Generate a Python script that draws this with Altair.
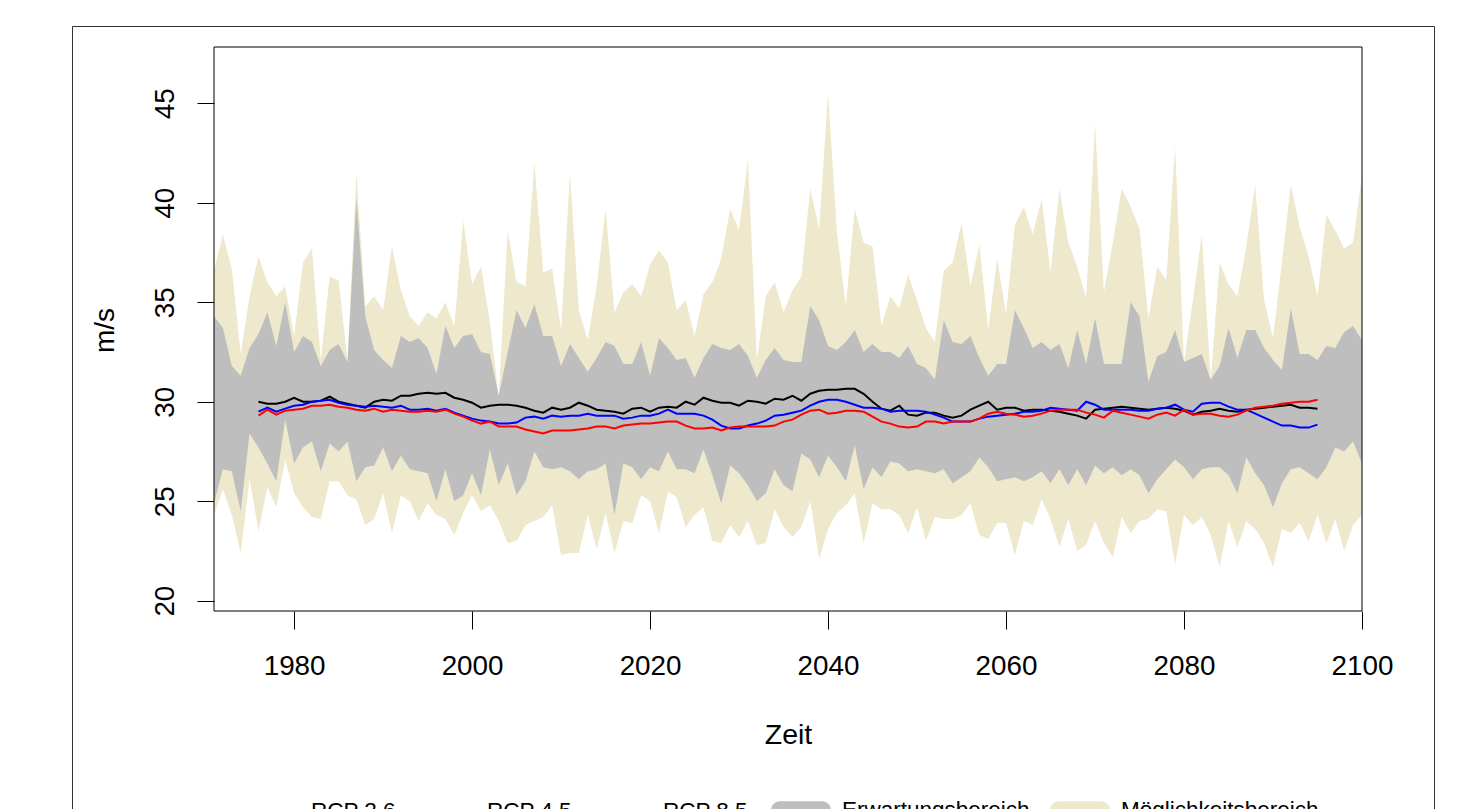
import altair as alt
import pandas as pd

band_years = list(range(1971, 2101))
line_years = list(range(1976, 2096))

moeglich_hi = [
    36.6, 38.4, 36.7, 32.4, 35.3, 37.3, 36.0, 35.3, 35.8, 33.3,
    37.0, 37.7, 32.1, 36.3, 36.1, 32.1, 41.5, 34.8, 35.3, 34.6,
    37.8, 35.6, 34.3, 33.8, 34.5, 34.2, 35.0, 33.8, 39.1, 35.9,
    36.8, 34.0, 30.3, 38.6, 36.0, 35.8, 42.0, 36.5, 36.7, 33.6,
    41.5, 34.6, 33.1, 35.8, 39.7, 34.5, 35.5, 35.9, 35.3, 36.9,
    37.6, 37.0, 34.6, 35.1, 33.3, 35.4, 36.0, 37.2, 39.7, 38.6,
    42.2, 32.1, 35.3, 36.0, 34.5, 35.6, 36.3, 40.7, 38.7, 45.5,
    38.5, 34.8, 39.7, 38.0, 37.8, 33.8, 35.3, 34.7, 36.4, 35.1,
    33.7, 33.0, 36.6, 37.0, 39.0, 35.8, 37.9, 33.6, 37.2, 34.4,
    38.9, 39.8, 38.4, 40.2, 36.5, 40.7, 38.0, 36.8, 35.2, 44.0,
    35.5, 38.0, 40.7, 39.8, 38.7, 34.2, 36.8, 36.1, 42.8, 32.0,
    35.1, 38.4, 31.1, 37.0, 35.9, 35.3, 37.8, 40.9, 35.1, 33.2,
    37.0, 40.9, 38.8, 37.3, 35.3, 39.4, 38.6, 37.7, 38.0, 41.4,
]
erwartung_hi = [
    34.3, 33.7, 31.8, 31.3, 32.7, 33.4, 34.5, 32.8, 35.0, 32.5,
    33.3, 33.0, 31.8, 32.6, 32.9, 32.0, 40.2, 34.3, 32.6, 32.1,
    31.7, 33.3, 33.0, 33.2, 32.7, 31.4, 33.8, 32.7, 33.3, 33.4,
    32.5, 32.4, 30.3, 32.5, 34.6, 33.7, 34.9, 33.3, 33.3, 31.8,
    32.9, 32.2, 31.5, 32.2, 33.0, 32.8, 31.9, 31.9, 33.0, 31.3,
    33.2, 32.7, 32.1, 32.2, 31.2, 32.2, 32.9, 32.7, 32.6, 32.9,
    32.3, 31.2, 32.1, 32.7, 32.1, 32.0, 32.0, 34.8, 34.1, 32.8,
    32.6, 33.0, 33.6, 32.5, 32.9, 32.5, 32.5, 32.2, 32.8, 31.9,
    31.7, 31.1, 34.1, 33.0, 32.9, 33.3, 32.2, 31.3, 31.9, 31.9,
    34.6, 33.7, 32.7, 33.0, 32.6, 32.9, 31.7, 33.6, 31.9, 34.2,
    31.9, 31.9, 31.9, 35.0, 34.3, 31.0, 32.3, 32.5, 33.6, 32.0,
    32.2, 32.4, 31.1, 31.8, 33.7, 32.2, 33.6, 33.6, 32.7, 32.1,
    31.6, 34.7, 32.4, 32.4, 32.1, 32.8, 32.7, 33.5, 33.8, 33.1,
]
erwartung_lo = [
    24.9, 26.6, 26.5, 24.5, 28.4, 27.7, 26.9, 26.0, 29.1, 26.9,
    27.7, 28.0, 26.5, 27.9, 27.5, 28.0, 26.0, 26.7, 26.8, 27.7,
    26.5, 27.3, 26.6, 26.5, 26.4, 25.0, 26.6, 25.0, 25.3, 26.4,
    25.3, 27.6, 25.8, 26.9, 25.3, 26.0, 27.5, 26.7, 26.6, 26.7,
    26.5, 26.1, 26.5, 26.6, 26.9, 24.3, 26.9, 26.7, 26.1, 26.7,
    26.5, 27.5, 26.6, 26.6, 26.4, 27.6, 26.3, 24.9, 26.8, 26.4,
    25.8, 25.0, 25.4, 26.6, 25.8, 25.5, 27.4, 27.1, 26.2, 27.3,
    26.7, 26.0, 27.8, 25.6, 26.7, 26.2, 27.0, 26.9, 26.5, 26.6,
    26.5, 26.4, 26.6, 25.9, 26.2, 26.5, 27.2, 26.7, 26.0, 26.1,
    26.2, 26.0, 26.2, 26.5, 25.9, 26.6, 25.8, 26.6, 25.8, 26.8,
    26.4, 26.7, 26.3, 26.6, 26.3, 25.4, 26.1, 26.6, 27.1, 26.7,
    26.1, 26.6, 26.7, 26.7, 26.3, 25.4, 27.2, 26.4, 25.8, 24.7,
    25.9, 26.6, 26.7, 26.4, 26.1, 26.7, 27.7, 27.5, 28.0, 26.9,
]
moeglich_lo = [
    24.3, 25.6, 24.3, 22.4, 26.1, 23.5, 25.7, 24.7, 27.1, 25.4,
    24.7, 24.2, 24.1, 26.0, 26.0, 25.3, 25.1, 23.8, 24.1, 25.4,
    23.4, 25.3, 25.0, 24.0, 24.9, 24.3, 24.1, 23.3, 24.4, 25.3,
    24.5, 24.8, 24.0, 22.9, 23.0, 23.8, 24.0, 24.2, 24.8, 22.3,
    22.4, 22.4, 24.3, 22.6, 24.4, 22.4, 24.0, 23.9, 25.3, 25.0,
    23.4, 25.5, 25.2, 23.7, 24.3, 24.7, 23.0, 22.9, 23.8, 23.2,
    24.0, 22.8, 22.9, 24.6, 23.7, 23.2, 23.7, 25.0, 22.1, 23.6,
    24.4, 24.8, 25.4, 22.9, 24.9, 24.6, 24.6, 24.3, 23.4, 24.7,
    23.0, 24.2, 24.1, 24.1, 24.3, 24.9, 23.3, 23.1, 23.9, 23.9,
    22.3, 24.0, 23.8, 25.1, 24.1, 22.7, 24.1, 22.5, 22.8, 24.0,
    22.9, 22.2, 24.2, 23.4, 24.0, 24.1, 24.6, 24.5, 21.8, 24.3,
    23.8, 24.2, 23.3, 21.7, 24.0, 22.7, 24.0, 23.6, 22.9, 21.7,
    23.6, 23.4, 23.9, 23.0, 24.3, 22.9, 24.1, 22.5, 23.8, 24.3,
]

rcp26 = [
    30.0, 29.9, 29.9, 30.0, 30.2, 30.0, 30.0, 30.05, 30.25, 30.0,
    29.9, 29.8, 29.7, 30.0, 30.1, 30.05, 30.3, 30.3, 30.4, 30.45,
    30.4, 30.45, 30.2, 30.1, 29.95, 29.7, 29.8, 29.85, 29.85, 29.8,
    29.7, 29.55, 29.45, 29.7, 29.6, 29.7, 29.95, 29.8, 29.6, 29.55,
    29.5, 29.4, 29.65, 29.7, 29.5, 29.7, 29.75, 29.7, 30.0, 29.85,
    30.2, 30.05, 29.95, 29.95, 29.8, 30.05, 30.0, 29.9, 30.15, 30.1,
    30.3, 30.05, 30.4, 30.55, 30.6, 30.6, 30.65, 30.65, 30.4, 30.0,
    29.65, 29.55, 29.8, 29.35, 29.3, 29.45, 29.45, 29.3, 29.2, 29.3,
    29.6, 29.8, 30.0, 29.6, 29.7, 29.7, 29.55, 29.6, 29.6, 29.55,
    29.5, 29.4, 29.3, 29.15, 29.6, 29.65, 29.7, 29.75, 29.7, 29.65,
    29.6, 29.65, 29.7, 29.65, 29.55, 29.35, 29.5, 29.55, 29.65, 29.55,
    29.5, 29.6, 29.65, 29.7, 29.75, 29.8, 29.85, 29.7, 29.7, 29.65,
]
rcp45 = [
    29.5, 29.7, 29.5, 29.65, 29.8, 29.85, 30.0, 30.05, 30.1, 29.95,
    29.85, 29.8, 29.75, 29.8, 29.75, 29.7, 29.8, 29.6, 29.6, 29.65,
    29.55, 29.65, 29.45, 29.3, 29.15, 29.05, 29.0, 28.9, 28.9, 28.95,
    29.2, 29.25, 29.15, 29.3, 29.25, 29.3, 29.3, 29.4, 29.3, 29.3,
    29.3, 29.15, 29.2, 29.3, 29.3, 29.4, 29.6, 29.4, 29.4, 29.4,
    29.3, 29.1, 28.8, 28.65, 28.65, 28.8, 28.9, 29.05, 29.3, 29.35,
    29.45, 29.55, 29.8, 30.0, 30.1, 30.1, 30.0, 29.85, 29.7, 29.7,
    29.65, 29.5, 29.55, 29.55, 29.55, 29.5, 29.35, 29.2, 29.0, 29.0,
    29.0, 29.15, 29.25, 29.3, 29.35, 29.4, 29.5, 29.5, 29.55, 29.7,
    29.65, 29.6, 29.55, 30.0, 29.85, 29.6, 29.6, 29.6, 29.6, 29.55,
    29.55, 29.65, 29.7, 29.85, 29.6, 29.5, 29.9, 29.95, 29.95, 29.75,
    29.6, 29.6, 29.4, 29.2, 29.0, 28.8, 28.8, 28.7, 28.7, 28.85,
]
rcp85 = [
    29.3, 29.6, 29.35, 29.55, 29.6, 29.65, 29.8, 29.8, 29.85, 29.75,
    29.7, 29.6, 29.55, 29.65, 29.5, 29.6, 29.55, 29.5, 29.5, 29.55,
    29.5, 29.6, 29.4, 29.25, 29.05, 28.9, 29.0, 28.75, 28.75, 28.75,
    28.6, 28.5, 28.4, 28.55, 28.55, 28.55, 28.6, 28.65, 28.75, 28.75,
    28.65, 28.8, 28.85, 28.9, 28.9, 28.95, 29.0, 29.0, 28.8, 28.65,
    28.65, 28.7, 28.55, 28.7, 28.75, 28.75, 28.75, 28.75, 28.8, 29.0,
    29.1, 29.35, 29.55, 29.6, 29.4, 29.45, 29.55, 29.55, 29.5, 29.25,
    29.0, 28.9, 28.75, 28.7, 28.75, 29.0, 29.0, 28.9, 29.0, 29.0,
    29.0, 29.15, 29.4, 29.5, 29.4, 29.35, 29.25, 29.3, 29.4, 29.55,
    29.6, 29.6, 29.6, 29.45, 29.35, 29.2, 29.55, 29.45, 29.35, 29.25,
    29.15, 29.35, 29.45, 29.3, 29.6, 29.35, 29.4, 29.4, 29.3, 29.25,
    29.35, 29.55, 29.7, 29.75, 29.8, 29.9, 29.95, 30.0, 30.0, 30.1,
]

x_ticks = [1980, 2000, 2020, 2040, 2060, 2080, 2100]
y_ticks = [20, 25, 30, 35, 40, 45]
series_names = ["RCP 2.6", "RCP 4.5", "RCP 8.5"]
series_colors = ["#000000", "#0000FF", "#FF0000"]
band_names = ["Erwartungsbereich", "Möglichkeitsbereich"]
band_colors = ["#BEBEBE", "#EEE8CD"]

FONT = "Liberation Sans"
W, H = 1148, 564

beige_df = pd.DataFrame({"year": band_years, "lo": moeglich_lo, "hi": moeglich_hi,
                         "band": band_names[1]})
gray_df = pd.DataFrame({"year": band_years, "lo": erwartung_lo, "hi": erwartung_hi,
                        "band": band_names[0]})
rows = []
for name, vals in zip(series_names, [rcp26, rcp45, rcp85]):
    for yr, v in zip(line_years, vals):
        rows.append({"year": yr, "value": v, "series": name})
lines_df = pd.DataFrame(rows)
one_df = pd.DataFrame({"k": [0]})

x_scale = alt.Scale(domain=[1971, 2100], nice=False, zero=False)
y_scale = alt.Scale(domain=[19.48, 47.83], nice=False, zero=False)

x_axis = alt.Axis(values=x_ticks, format="d", title="Zeit", grid=False, domain=False,
                  labelFont=FONT, labelFontSize=27.8, labelColor="black",
                  labelBaseline="alphabetic", labelPadding=45, labelFlush=False,
                  labelOverlap=False, tickSize=18, tickColor="black", tickWidth=1,
                  titleFont=FONT, titleFontSize=28.5, titleFontWeight="normal",
                  titleColor="black", titleX=574, titleY=132, titleAlign="center",
                  titleBaseline="alphabetic")
y_axis = alt.Axis(values=y_ticks, title="m/s", grid=False, domain=False,
                  labelFont=FONT, labelFontSize=27.8, labelColor="black",
                  labelAngle=270, labelAlign="center", labelBaseline="alphabetic",
                  labelPadding=24, labelFlush=False, labelOverlap=False,
                  tickSize=17, tickColor="black", tickWidth=1,
                  titleFont=FONT, titleFontSize=28, titleFontWeight="normal",
                  titleColor="black", titleAngle=270, titleX=-101, titleY=283,
                  titleAlign="center", titleBaseline="alphabetic")

rounded = ("M -0.7 -0.3 L 0.7 -0.3 A 0.3 0.3 0 0 1 0.7 0.3 "
           "L -0.7 0.3 A 0.3 0.3 0 0 1 -0.7 -0.3 Z")

fill_scale = alt.Scale(domain=band_names, range=band_colors)
fill_legend = alt.Legend(orient="none", legendX=557, legendY=733, direction="horizontal",
                         title=None, symbolType=rounded, symbolSize=3600,
                         symbolStrokeWidth=0, symbolOpacity=1,
                         labelFont=FONT, labelFontSize=22.5, labelColor="black",
                         labelOffset=11, columnPadding=20, labelLimit=500)
stroke_scale = alt.Scale(domain=series_names, range=series_colors)
stroke_legend = alt.Legend(orient="none", legendX=32, legendY=741, direction="horizontal",
                           title=None, symbolType="stroke", symbolSize=1936,
                           symbolStrokeWidth=2, labelFont=FONT, labelFontSize=22.5,
                           labelColor="black", labelOffset=19, columnPadding=22,
                           labelLimit=500)

outer = alt.Chart(one_df).mark_rect(fill="transparent", stroke="#333333", strokeWidth=1).encode(
    x=alt.value(-141.5), x2=alt.value(1220.5), y=alt.value(-20.5), y2=alt.value(900))

beige = alt.Chart(beige_df).mark_area(opacity=1).encode(
    x=alt.X("year:Q", scale=x_scale, axis=x_axis),
    y=alt.Y("lo:Q", scale=y_scale, axis=y_axis),
    y2="hi:Q",
    fill=alt.Fill("band:N", scale=fill_scale, legend=fill_legend),
)
gray = alt.Chart(gray_df).mark_area(opacity=1).encode(
    x=alt.X("year:Q", scale=x_scale, axis=x_axis),
    y=alt.Y("lo:Q", scale=y_scale, axis=y_axis),
    y2="hi:Q",
    fill=alt.Fill("band:N", scale=fill_scale, legend=fill_legend),
)
lines = alt.Chart(lines_df).mark_line(strokeWidth=2).encode(
    x=alt.X("year:Q", scale=x_scale, axis=x_axis),
    y=alt.Y("value:Q", scale=y_scale, axis=y_axis),
    stroke=alt.Stroke("series:N", scale=stroke_scale, legend=stroke_legend),
)
frame = alt.Chart(one_df).mark_rect(fill="transparent", stroke="black", strokeWidth=1).encode(
    x=alt.value(0), x2=alt.value(W), y=alt.value(0), y2=alt.value(H))

chart = alt.layer(outer, beige, gray, lines, frame).properties(
    width=W, height=H,
    autosize=alt.AutoSizeParams(type="none"),
    padding={"left": 206, "top": 39, "right": 107, "bottom": 240},
    background="white",
).configure_view(strokeWidth=0)

chart.save("out.html", embed_options={"renderer": "svg", "actions": False})
